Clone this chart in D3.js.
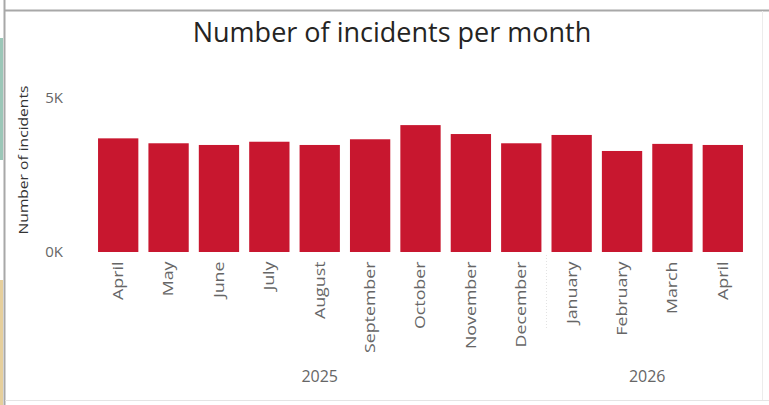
<!DOCTYPE html>
<html lang="en">
<head>
<meta charset="UTF-8">
<title>Number of incidents per month</title>
<script src="https://d3js.org/d3.v7.min.js"></script>
<style>
  body { margin: 0; background: #fff; }
  svg { display: block; font-family: "Open Sans", "Noto Sans", sans-serif; }
</style>
</head>
<body>
<svg id="chart" width="769" height="405"></svg>
<script>
  // month categories and incident counts
  const months = ["April", "May", "June", "July", "August", "September", "October",
                  "November", "December", "January", "February", "March", "April"];
  const monthKeys = months.map((m, i) => m + "-" + i);
  const incidents = [3690, 3530, 3475, 3580, 3475, 3660, 4120, 3830, 3530, 3800, 3280, 3510, 3475];
  const years = [
    {label: "2025", from: 0, to: 8},
    {label: "2026", from: 9, to: 12}
  ];
  const yTicks = [0, 5000];

  const data = monthKeys.map((k, i) => ({key: k, month: months[i], value: incidents[i]}));

  const svg = d3.select("#chart");

  // ===== frame of the dashboard tile =====
  svg.append("rect").attr("x", 0).attr("y", 38).attr("width", 3).attr("height", 122).attr("fill", "#9cc7b8");
  svg.append("rect").attr("x", 0).attr("y", 280).attr("width", 3).attr("height", 125).attr("fill", "#e6cf9c");
  svg.append("line").attr("x1", 4.5).attr("x2", 4.5).attr("y1", 0).attr("y2", 405)
    .attr("stroke", "#a8a8a8").attr("stroke-width", 2);
  svg.append("line").attr("x1", 5).attr("x2", 769).attr("y1", 10.5).attr("y2", 10.5)
    .attr("stroke", "#a8a8a8").attr("stroke-width", 2);
  svg.append("line").attr("x1", 5).attr("x2", 769).attr("y1", 400.5).attr("y2", 400.5)
    .attr("stroke", "#e4e4e4").attr("stroke-width", 1);
  svg.append("line").attr("x1", 762.5).attr("x2", 762.5).attr("y1", 11).attr("y2", 400)
    .attr("stroke", "#ececec").attr("stroke-width", 1);

  // ===== title =====
  svg.append("text")
    .attr("x", 392).attr("y", 42)
    .attr("text-anchor", "middle")
    .attr("fill", "#252423")
    .style("font-size", "27px")
    .text("Number of incidents per month");

  // ===== scales =====
  const x = d3.scaleBand().domain(monthKeys).range([93, 748]).paddingInner(0.2).paddingOuter(0.1);
  const y = d3.scaleLinear().domain([0, 5000]).range([252, 98]);

  // y axis
  const yAxis = svg.append("g")
    .attr("transform", "translate(66,0)")
    .call(d3.axisLeft(y).tickValues(yTicks).tickSize(0).tickPadding(3).tickFormat(d => (d / 1000) + "K"));
  yAxis.select(".domain").remove();
  yAxis.selectAll("text").attr("fill", "#666").style("font-size", "15px").style("font-family", "'Open Sans', sans-serif");

  svg.append("text")
    .attr("transform", "translate(28,160) rotate(-90) scale(1.2,1)")
    .attr("text-anchor", "middle")
    .attr("fill", "#333")
    .style("font-size", "13px")
    .text("Number of incidents");

  // separator between years
  const sepX = (x(monthKeys[8]) + x.bandwidth() + x(monthKeys[9])) / 2;
  svg.append("line")
    .attr("x1", sepX).attr("x2", sepX).attr("y1", 255).attr("y2", 330)
    .attr("stroke", "#e2e2e2").attr("stroke-dasharray", "1,2");

  // ===== bars =====
  svg.append("g").selectAll("rect")
    .data(data)
    .join("rect")
    .attr("x", d => x(d.key))
    .attr("y", d => y(d.value))
    .attr("width", x.bandwidth())
    .attr("height", d => y(0) - y(d.value))
    .attr("fill", "#c8172f");

  // x axis month labels
  const xAxis = svg.append("g")
    .attr("transform", "translate(0,252)")
    .call(d3.axisBottom(x).tickSize(0).tickFormat((d, i) => months[i]));
  xAxis.select(".domain").remove();
  xAxis.selectAll("text")
    .attr("transform", "rotate(-90) scale(1.27,1)")
    .attr("text-anchor", "end")
    .attr("x", -7.5)
    .attr("y", 0)
    .attr("dy", "0.35em")
    .attr("fill", "#666")
    .style("font-size", "14px")
    .style("font-family", "'Open Sans', sans-serif");

  // year labels
  svg.append("g").selectAll("text")
    .data(years)
    .join("text")
    .attr("x", d => (x(monthKeys[d.from]) + x(monthKeys[d.to]) + x.bandwidth()) / 2)
    .attr("y", 382)
    .attr("text-anchor", "middle")
    .attr("fill", "#666")
    .style("font-size", "16px")
    .text(d => d.label);
</script>
</body>
</html>
